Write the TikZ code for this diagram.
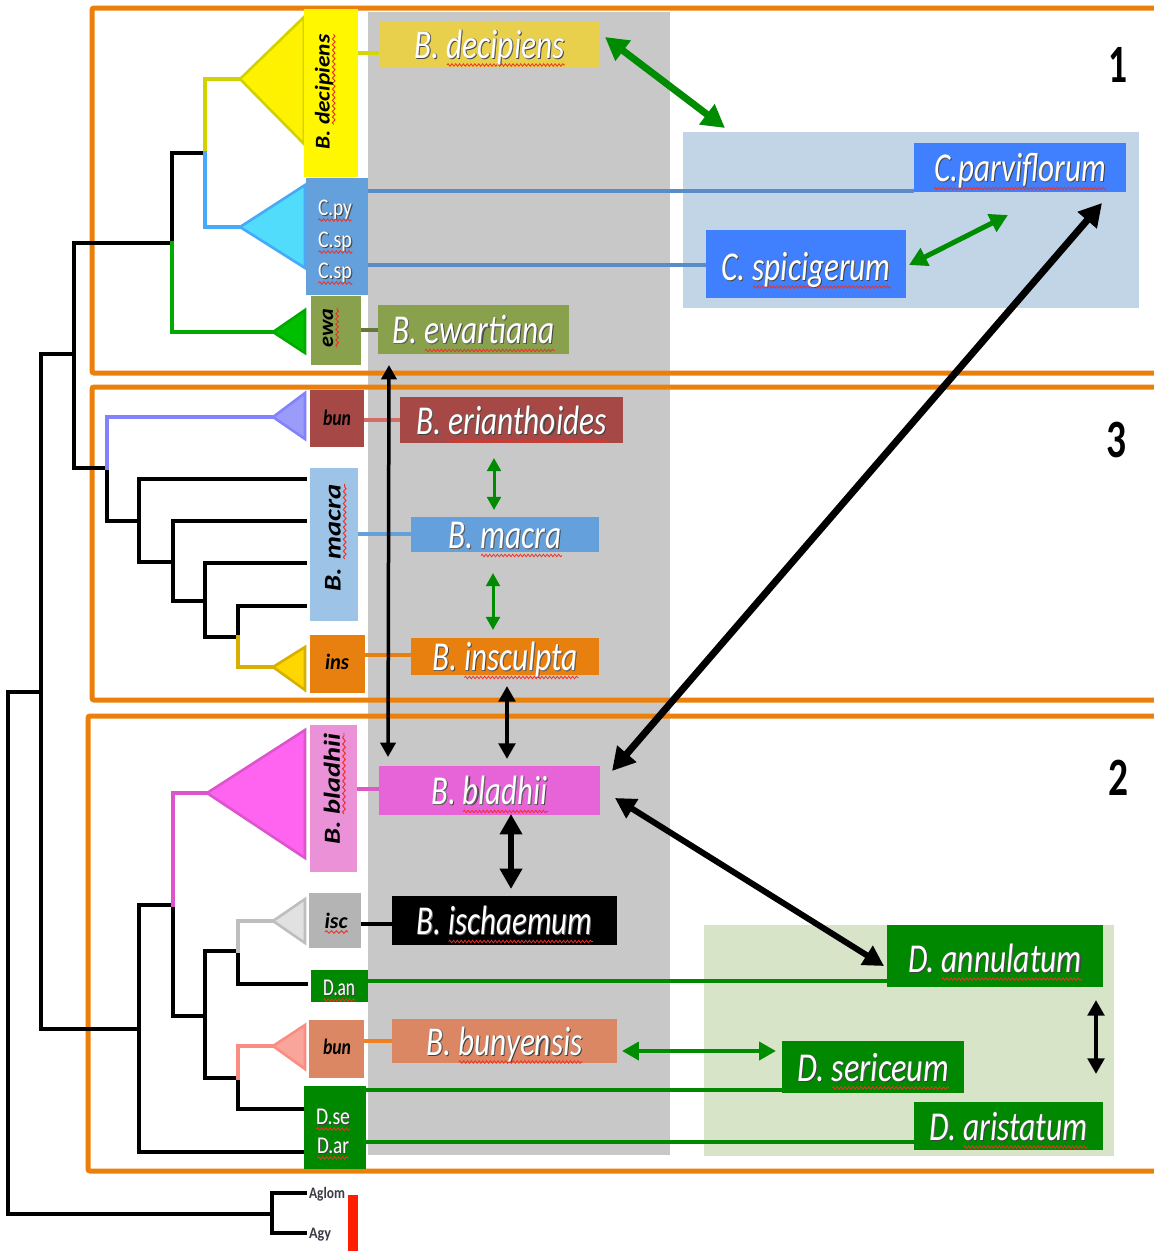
\documentclass[tikz,border=0pt]{standalone}
\usepackage{fontspec}
\setmainfont{Carlito}
\usepackage{graphicx}
\usetikzlibrary{arrows.meta,decorations.pathmorphing}

% frames and panels
\definecolor{orng}{RGB}{234,128,10}
\definecolor{colgray}{RGB}{200,200,200}
\definecolor{cbg}{RGB}{194,213,230}
\definecolor{dbg}{RGB}{216,228,200}
% species boxes
\definecolor{decY}{RGB}{232,208,76}
\definecolor{ewaG}{RGB}{137,160,76}
\definecolor{cBlue}{RGB}{64,128,255}
\definecolor{eriR}{RGB}{165,72,70}
\definecolor{macB}{RGB}{100,160,220}
\definecolor{insO}{RGB}{232,128,16}
\definecolor{bladP}{RGB}{230,100,215}
\definecolor{bunS}{RGB}{220,135,100}
\definecolor{dGreen}{RGB}{0,136,0}
% tree tags
\definecolor{tagY}{RGB}{255,247,0}
\definecolor{tagC}{RGB}{100,160,220}
\definecolor{tagMac}{RGB}{157,195,230}
\definecolor{tagBlad}{RGB}{235,145,215}
\definecolor{tagIsc}{RGB}{180,180,180}
% branches and clade triangles
\definecolor{brY}{RGB}{210,210,0}\definecolor{triY}{RGB}{255,242,0}
\definecolor{brC}{RGB}{70,170,250}\definecolor{triC}{RGB}{80,220,250}
\definecolor{brG}{RGB}{0,170,0}\definecolor{triG}{RGB}{0,190,0}
\definecolor{brP}{RGB}{130,130,255}\definecolor{triP}{RGB}{155,155,250}
\definecolor{brGold}{RGB}{215,175,0}\definecolor{triGold}{RGB}{255,215,0}
\definecolor{brPink}{RGB}{220,85,205}\definecolor{triPink}{RGB}{255,100,240}
\definecolor{brGray}{RGB}{190,190,190}\definecolor{triGray}{RGB}{225,225,225}
\definecolor{brSal}{RGB}{250,140,130}\definecolor{triSal}{RGB}{250,165,155}
% connectors and arrows
\definecolor{cnY}{RGB}{215,215,0}
\definecolor{cnC}{RGB}{90,140,200}
\definecolor{cnEwa}{RGB}{100,120,60}
\definecolor{cnEri}{RGB}{210,110,100}
\definecolor{cnBlad}{RGB}{220,90,200}
\definecolor{cnBun}{RGB}{240,128,32}
\definecolor{arrG}{RGB}{0,140,0}
\definecolor{sqred}{RGB}{235,50,40}
\definecolor{agcol}{RGB}{60,60,70}
\definecolor{redbar}{RGB}{255,30,0}

\newcommand\lblfont{\fontsize{41}{41}\selectfont\itshape}
\newcommand\tagfont{\fontsize{21}{21}\selectfont\bfseries\itshape}
\newcommand\numfont{\fontsize{54}{54}\selectfont\bfseries}
\newcommand\fitw[2]{\resizebox{#1}{\height}{#2}}

% red wavy underline under a word
\newsavebox\sqbox
\newdimen\sqw
\newif\ifsqwave \sqwavetrue
\tikzset{wavy/.style={draw=sqred,line width=0.9pt,decorate,
  decoration={snake,amplitude=1.3pt,segment length=5pt}}}
\newcommand\sq[2][7pt]{\ifsqwave\sbox\sqbox{#2}\sqw=\wd\sqbox\relax
  \rlap{\smash{\tikz[x=1pt,y=1pt,baseline=0pt]\draw[wavy] (0pt,-#1) -- (\the\sqw,-#1);}}%
  \usebox\sqbox\else#2\fi}
% white lettering with a dark drop shadow
\newcommand\shd[1]{\rlap{\raisebox{-1.4pt}{\kern1.4pt\color{black!75}\sqwavefalse#1}}%
  \rlap{\raisebox{-0.7pt}{\kern0.7pt\color{black!60}\sqwavefalse#1}}#1}

\begin{document}
\begin{tikzpicture}[x=1pt,y=-1pt,
  every node/.style={inner sep=0pt,outer sep=0pt},
  br/.style={line width=3.4pt,draw=#1,line cap=rect},
  br/.default=black,
  clade/.style 2 args={fill=#1,draw=#2,line width=2.6pt,line join=miter},
  tagbox/.style={fill=#1},
  lbl/.style={fill=#1,text=white,font=\lblfont,text height=28pt,text depth=0pt},
  conn/.style={draw=#1,line width=3.2pt},
  obox/.style={draw=orng,line width=5pt,rounded corners=2pt},
  dbl/.style={line width=#1,
    {Triangle[length=6pt 2.4,width=6pt 2.6]}-{Triangle[length=6pt 2.4,width=6pt 2.6]}},
  smalltxt/.style={anchor=base,font=\fontsize{22}{22}\selectfont\bfseries\itshape},
  ctxt/.style={anchor=base,text=white,font=\fontsize{24}{24}\selectfont}]

\useasboundingbox (0,0) rectangle (1154,1251);
\clip (0,0) rectangle (1154,1251);
\fill[white] (0,0) rectangle (1154,1251);

% panels
\fill[colgray] (368,12) rectangle (670,1155);
\node[fill=cbg,minimum width=456pt,minimum height=176pt] (cbox) at (911,220) {};
\node[fill=dbg,minimum width=410pt,minimum height=231pt] (dbox) at (909,1040.5) {};

% group frames
\draw[obox] (92,8) rectangle (1180,373);
\draw[obox] (92,387) rectangle (1180,700);
\draw[obox] (88,716) rectangle (1180,1171);

\node[font=\numfont] (g1) at (1118,65) {\fitw{19pt}{1}};
\node[font=\numfont] (g3) at (1116,440) {\fitw{20pt}{3}};
\node[font=\numfont] (g2) at (1118,778) {\fitw{20pt}{2}};

% tree: internal nodes
\coordinate (nR) at (8,953);
\coordinate (nA) at (41,692);
\coordinate (nB) at (74,354);
\coordinate (nC1) at (172,243);
\coordinate (nD1) at (205,153);
\coordinate (nC3) at (107,468);
\coordinate (nE1) at (139,521);
\coordinate (nE2) at (173,562);
\coordinate (nE3) at (205,601);
\coordinate (nE4) at (238,637);
\coordinate (nC2) at (139,1029);
\coordinate (nF1) at (173,905);
\coordinate (nF2) at (205,1016);
\coordinate (nF3) at (238,951);
\coordinate (nF4) at (238,1078);
\coordinate (nAg) at (272,1214);
% clade apexes
\coordinate (tDec) at (240,79);
\coordinate (tC) at (240,227);
\coordinate (tEwa) at (273,332);
\coordinate (tBun) at (273,417);
\coordinate (tIns) at (273,667);
\coordinate (tBlad) at (207,793);
\coordinate (tIsc) at (273,921);
\coordinate (tBun2) at (273,1046);
% leaves
\coordinate (lM1) at (305,479);
\coordinate (lM2) at (305,521);
\coordinate (lM3) at (305,563);
\coordinate (lM4) at (305,606);
\coordinate (lDan) at (306,984);
\coordinate (lDse) at (304,1109);
\coordinate (lDar) at (304,1152);
\coordinate (lAglom) at (305,1193);
\coordinate (lAgy) at (305,1233);

\draw[br] (nR) |- (nA); \draw[br] (nR) |- (nAg);
\draw[br] (nA) |- (nB); \draw[br] (nA) |- (nC2);
\draw[br] (nB) |- (nC1); \draw[br] (nB) |- (nC3);
\draw[br] (nC1) |- (nD1); \draw[br=brG] (nC1) |- (tEwa);
\draw[br=brY] (nD1) |- (tDec); \draw[br=brC] (nD1) |- (tC);
\draw[br] (nC3) |- (nE1); \draw[br=brP] (nC3) |- (tBun);
\draw[br] (nE1) |- (lM1); \draw[br] (nE1) |- (nE2);
\draw[br] (nE2) |- (lM2); \draw[br] (nE2) |- (nE3);
\draw[br] (nE3) |- (lM3); \draw[br] (nE3) |- (nE4);
\draw[br] (nE4) |- (lM4); \draw[br=brGold] (nE4) |- (tIns);
\draw[br] (nC2) |- (lDar); \draw[br] (nC2) |- (nF1);
\draw[br] (nF1) |- (nF2); \draw[br=brPink] (nF1) |- (tBlad);
\draw[br] (nF2) |- (nF3); \draw[br] (nF2) |- (nF4);
\draw[br] (nF3) |- (lDan); \draw[br=brGray] (nF3) |- (tIsc);
\draw[br] (nF4) |- (lDse); \draw[br=brSal] (nF4) |- (tBun2);
\draw[br] (nAg) |- (lAglom); \draw[br] (nAg) |- (lAgy);

% collapsed clades
\draw[clade={triY}{brY}] (tDec) -- (304,17) -- (304,144) -- cycle;
\draw[clade={triC}{brC}] (tC) -- (305,185) -- (305,268) -- cycle;
\draw[clade={triG}{brG}] (tEwa) -- (305,310) -- (305,353) -- cycle;
\draw[clade={triP}{brP}] (tBun) -- (305,393) -- (305,439) -- cycle;
\draw[clade={triGold}{brGold}] (tIns) -- (305,647) -- (305,690) -- cycle;
\draw[clade={triPink}{brPink}] (tBlad) -- (305,730) -- (305,858) -- cycle;
\draw[clade={triGray}{brGray}] (tIsc) -- (305,899) -- (305,943) -- cycle;
\draw[clade={triSal}{brSal}] (tBun2) -- (305,1025) -- (305,1069) -- cycle;

% tip tags
\node[tagbox=tagY,minimum width=54pt,minimum height=168pt] (decT) at (331,93) {};
\node[tagbox=tagC,minimum width=62pt,minimum height=117pt] (cT) at (337,236.5) {};
\node[tagbox=ewaG,minimum width=50pt,minimum height=69pt] (ewaT) at (336,330.5) {};
\node[tagbox=eriR,minimum width=54pt,minimum height=57pt] (bunT) at (337,418.5) {};
\node[tagbox=tagMac,minimum width=48pt,minimum height=153pt] (macT) at (334,544.5) {};
\node[tagbox=insO,minimum width=55pt,minimum height=58pt] (insT) at (337.5,664) {};
\node[tagbox=tagBlad,minimum width=47pt,minimum height=147pt] (bladT) at (333.5,798.5) {};
\node[tagbox=tagIsc,minimum width=52pt,minimum height=55pt] (iscT) at (335,920.5) {};
\node[tagbox=dGreen,minimum width=57pt,minimum height=32pt] (danT) at (339.5,986) {};
\node[tagbox=bunS,minimum width=55pt,minimum height=58pt] (bun2T) at (336.5,1049) {};
\node[tagbox=dGreen,minimum width=62pt,minimum height=83pt] (dsaT) at (335,1127.5) {};

\node (decTx) at (324,92) {\rotatebox{90}{\fitw{115pt}{\tagfont B. \sq[4pt]{decipiens}}}};
\node (ewaTx) at (328,328) {\rotatebox{90}{\fitw{39pt}{\tagfont\sq[4pt]{ewa}}}};
\node (macTx) at (333,538) {\rotatebox{90}{\fitw{107pt}{\fontsize{24}{24}\selectfont\bfseries\itshape B.\hspace{7pt}\sq[4pt]{macra}}}};
\node (bladTx) at (332,789) {\rotatebox{90}{\fitw{111pt}{\fontsize{23}{23}\selectfont\bfseries\itshape B. \sq[4pt]{bladhii}}}};
\node[ctxt] (cpyTx) at (335,215) {\fitw{34pt}{\shd{\sq[5pt]{C.py}}}};
\node[ctxt] (csp1Tx) at (335,247) {\fitw{34pt}{\shd{\sq[5pt]{C.sp}}}};
\node[ctxt] (csp2Tx) at (335,278) {\fitw{34pt}{\shd{\sq[5pt]{C.sp}}}};
\node[smalltxt] (bunTx) at (337,425) {\fitw{28pt}{bun}};
\node[smalltxt] (insTx) at (337,669) {\fitw{24pt}{ins}};
\node[smalltxt] (iscTx) at (336,928) {\fitw{23pt}{\sq[4pt]{isc}}};
\node[ctxt] (danTx) at (339,995) {\fitw{32pt}{\shd{\sq[5pt]{D.an}}}};
\node[smalltxt] (bun2Tx) at (337,1054) {\fitw{28pt}{bun}};
\node[ctxt] (dseTx) at (333,1124) {\fitw{34pt}{\shd{\sq[5pt]{D.se}}}};
\node[ctxt] (darTx) at (333,1153) {\fitw{32pt}{\shd{\sq[5pt]{D.ar}}}};

% outgroup
\node[anchor=base west,text=agcol,font=\fontsize{16}{16}\selectfont\bfseries] (aglom) at (309,1198) {\fitw{36pt}{Aglom}};
\node[anchor=base west,text=agcol,font=\fontsize{16}{16}\selectfont\bfseries] (agy) at (309,1238) {\fitw{22pt}{Agy}};
\node[fill=redbar,minimum width=10pt,minimum height=58pt] (obar) at (353,1224) {};

% species boxes
\node[lbl=decY,minimum width=221pt,minimum height=46pt] (dec) at (489.5,44) {\fitw{150pt}{\shd{B. \sq{decipiens}}}};
\node[lbl=ewaG,minimum width=191pt,minimum height=49pt] (ewart) at (473.5,329.5) {\fitw{162pt}{\shd{B. \sq{ewartiana}}}};
\node[lbl=cBlue,minimum width=212pt,minimum height=49pt] (cpar) at (1020,167.5) {\fitw{172pt}{\shd{\sq{C.parviflorum}}}};
\node[lbl=cBlue,minimum width=200pt,minimum height=68pt,text height=32pt] (cspi) at (806,264) {\fitw{169pt}{\shd{C. \sq{spicigerum}}}};
\node[lbl=eriR,minimum width=223pt,minimum height=46pt] (eri) at (511.5,420) {\fitw{190pt}{\shd{B. \sq{erianthoides}}}};
\node[lbl=macB,minimum width=188pt,minimum height=35pt] (macra) at (505,534.5) {\fitw{113pt}{\shd{B. \sq{macra}}}};
\node[lbl=insO,minimum width=188pt,minimum height=37pt] (insc) at (505,656.5) {\fitw{146pt}{\shd{B. \sq{insculpta}}}};
\node[lbl=bladP,minimum width=221pt,minimum height=49pt] (blad) at (489.5,790.5) {\fitw{116pt}{\shd{B. \sq{bladhii}}}};
\node[lbl=black,minimum width=225pt,minimum height=49pt] (isch) at (504.5,920.5) {\fitw{176pt}{\shd{B. \sq{ischaemum}}}};
\node[lbl=bunS,minimum width=225pt,minimum height=44pt] (buny) at (504.5,1041) {\fitw{156pt}{\shd{B. \sq{bunyensis}}}};
\node[lbl=dGreen,minimum width=216pt,minimum height=62pt,text height=32pt] (dann) at (995,956) {\fitw{174pt}{\shd{D. \sq{annulatum}}}};
\node[lbl=dGreen,minimum width=182pt,minimum height=52pt] (dser) at (873,1067) {\fitw{152pt}{\shd{D. \sq{sericeum}}}};
\node[lbl=dGreen,minimum width=189pt,minimum height=48pt] (dari) at (1008.5,1126) {\fitw{158pt}{\shd{D. \sq{aristatum}}}};

% tags to species boxes
\draw[conn=cnY] (decT.east |- 0,53) -- (dec.west |- 0,53);
\draw[conn=cnC] (cT.east |- 0,191) -- (cpar.west |- 0,191);
\draw[conn=cnC] (cT.east |- 0,265) -- (cspi.west |- 0,265);
\draw[conn=cnEwa] (ewaT.east |- 0,330) -- (ewart.west |- 0,330);
\draw[conn=cnEri] (bunT.east |- 0,420) -- (eri.west |- 0,420);
\draw[conn=macB] (macT.east |- 0,534) -- (macra.west |- 0,534);
\draw[conn=insO] (insT.east |- 0,655) -- (insc.west |- 0,655);
\draw[conn=cnBlad] (bladT.east |- 0,789) -- (blad.west |- 0,789);
\draw[conn=black] (iscT.east |- 0,924) -- (isch.west |- 0,924);
\draw[conn=dGreen,line width=4pt] (danT.east |- 0,981) -- (dann.west |- 0,981);
\draw[conn=cnBun] (bun2T.east |- 0,1041) -- (buny.west |- 0,1041);
\draw[conn=dGreen,line width=4pt] (dsaT.east |- 0,1090) -- (dser.west |- 0,1090);
\draw[conn=dGreen,line width=4pt] (dsaT.east |- 0,1142) -- (dari.west |- 0,1142);

% relationships
\draw[dbl=7pt,draw=arrG] ([shift={(5,-7)}]dec.east) -- ([shift={(42,-4)}]cbox.north west);
\draw[dbl=5pt,draw=arrG] ([shift={(3,1)}]cspi.east) -- ([shift={(-12,23)}]cpar.south);
\draw[dbl=7pt,draw=black] ([shift={(12,-19.5)}]blad.east) -- ([shift={(-24,11)}]cpar.south east);
\draw[dbl=6pt,draw=black] ([shift={(15,7.5)}]blad.east) -- ([shift={(-3,10)}]dann.west);
\draw[dbl=3.5pt,draw=black] ([shift={(11,11)}]ewart.south west) -- ([shift={(9,-9)}]blad.north west);
\draw[dbl=4pt,draw=black] ([shift={(2,11)}]insc.south) -- ([shift={(17.5,-7)}]blad.north);
\draw[dbl=6pt,draw=black] ([shift={(21.5,-1)}]blad.south) -- ([shift={(6.5,-7)}]isch.north);
\draw[dbl=3pt,draw=arrG] ([shift={(-17.5,15)}]eri.south) -- ([shift={(-11,-7)}]macra.north);
\draw[dbl=3pt,draw=arrG] ([shift={(-12,21)}]macra.south) -- ([shift={(-12,-8)}]insc.north);
\draw[dbl=4.5pt,draw=arrG] ([shift={(5,10)}]buny.east) -- ([shift={(-6,-16)}]dser.west);
\draw[dbl=4pt,draw=black] ([shift={(-7,13)}]dann.south east) -- ([shift={(-7,-28)}]dari.north east);
\end{tikzpicture}
\end{document}
